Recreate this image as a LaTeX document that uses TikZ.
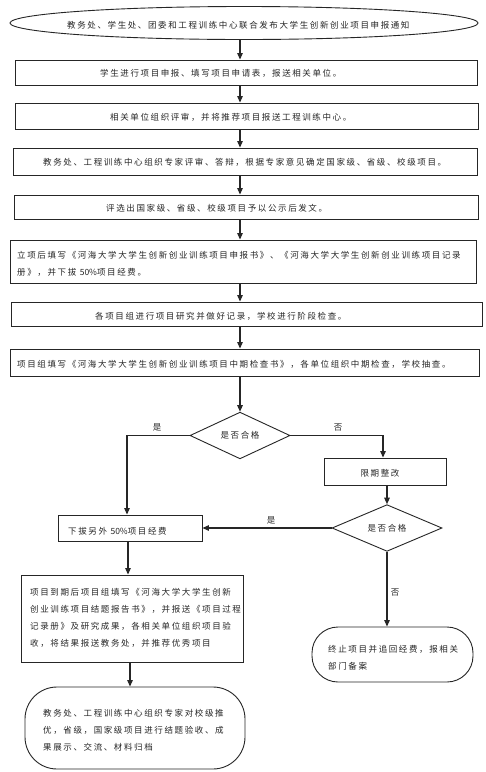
\documentclass[tikz,border=0pt]{standalone}
\usepackage{fontspec}
\newfontfamily\cjk[LetterSpace=19]{Noto Sans CJK SC}
\newfontfamily\cjklat{Noto Sans CJK SC}
\usetikzlibrary{shapes.geometric,arrows.meta,calc}
\begin{document}
\begin{tikzpicture}[x=1pt,y=-1pt,
  box/.style={draw=black!85, line width=0.9pt, rectangle, inner sep=0pt},
  rbox/.style={box, rounded corners=#1},
  oval/.style={draw=black!85, line width=0.9pt, ellipse, inner sep=0pt},
  dia/.style={draw=black!85, line width=0.9pt, diamond, inner sep=0pt,
    font=\cjk\fontsize{8.5}{17}\selectfont, text=black!85},
  txt/.style={font=\cjk\fontsize{8.5}{17}\selectfont, inner sep=0pt, anchor=west, align=left, text=black!85},
  lbl/.style={font=\cjk\fontsize{8.5}{17}\selectfont, inner sep=0pt, text=black!85},
  arr/.style={draw=black!85, line width=1.2pt, -{Triangle[length=6.5pt,width=5.5pt]}}
]
\fill[white] (0,0) rectangle (486,772);
\useasboundingbox (0,0) rectangle (486,772);

% shapes
\node[oval, minimum width=468pt, minimum height=33pt] (e1) at (244,23) {};
\node[box, minimum width=462pt, minimum height=25pt] (b2) at (246,72.5) {};
\node[box, minimum width=463pt, minimum height=26pt] (b3) at (246.5,116) {};
\node[box, minimum width=464pt, minimum height=27pt] (b4) at (245,161.5) {};
\node[box, minimum width=464pt, minimum height=24pt] (b5) at (246,207) {};
\node[box, minimum width=466pt, minimum height=43pt] (b6) at (243,261.5) {};
\node[box, minimum width=471pt, minimum height=24pt] (b7) at (246.5,314) {};
\node[box, minimum width=469pt, minimum height=27pt] (b8) at (244.5,362.5) {};
\node[dia, minimum width=100pt, minimum height=39pt] (d1) at (240,435.5) {是否合格};
\node[box, minimum width=122pt, minimum height=27pt] (b10) at (385,471.5) {};
\node[dia, minimum width=110pt, minimum height=40pt] (d2) at (387,528) {是否合格};
\node[box, minimum width=144pt, minimum height=26pt] (b9) at (130,528) {};
\node[box, minimum width=222pt, minimum height=87pt] (b11) at (132,618.5) {};
\node[rbox=32pt, minimum width=220pt, minimum height=82pt] (b12) at (135,728) {};
\node[rbox=26pt, minimum width=161pt, minimum height=55pt] (t13) at (392.5,654.5) {};

% texts
\node[txt] (te1) at (67,25) {教务处、学生处、团委和工程训练中心联合发布大学生创新创业项目申报通知};
\node[txt] (tb2) at (100,73) {学生进行项目申报、填写项目申请表，报送相关单位。};
\node[txt] (tb3) at (110,117) {相关单位组织评审，并将推荐项目报送工程训练中心。};
\node[txt] (tb4) at (43,162) {教务处、工程训练中心组织专家评审、答辩，根据专家意见确定国家级、省级、校级项目。};
\node[txt] (tb5) at (106,208) {评选出国家级、省级、校级项目予以公示后发文。};
\node[txt] (tb6) at (17,263.5) {立项后填写《河海大学大学生创新创业训练项目申报书》、《河海大学大学生创新创业训练项目记录\\册》，并下拔 {\cjklat 50\%}项目经费。};
\node[txt] (tb7) at (95,316) {各项目组进行项目研究并做好记录，学校进行阶段检查。};
\node[txt] (tb8) at (17,364) {项目组填写《河海大学大学生创新创业训练项目中期检查书》，各单位组织中期检查，学校抽查。};
\node[lbl] (tb10) at (380,473) {限期整改};
\node[txt] (tb9) at (68,531) {下拔另外 {\cjklat 50\%}项目经费};
\node[txt] (tb11) at (30,618) {项目到期后项目组填写《河海大学大学生创新\\创业训练项目结题报告书》，并报送《项目过程\\记录册》及研究成果，各相关单位组织项目验\\收，将结果报送教务处，并推荐优秀项目};
\node[txt] (tb12) at (43,730.5) {教务处、工程训练中心组织专家对校级推\\优，省级，国家级项目进行结题验收、成\\果展示、交流、材料归档};
\node[txt] (tt13) at (328,658) {终止项目并追回经费，报相关\\部门备案};

% labels
\node[lbl] (l1) at (157,427) {是};
\node[lbl] (l2) at (338,428) {否};
\node[lbl] (l3) at (271,520) {是};
\node[lbl] (l4) at (395,593) {否};

% connectors
\coordinate (col) at (240,0);
\coordinate (lc) at (127,0);
\coordinate (lc2) at (128,0);
\coordinate (lc3) at (130,0);
\coordinate (rc) at (383,0);
\draw[arr] (e1.south -| col) -- (b2.north -| col);
\draw[arr] (b2.south -| col) -- (b3.north -| col);
\draw[arr] (b3.south -| col) -- (b4.north -| col);
\draw[arr] (b4.south -| col) -- (b5.north -| col);
\draw[arr] (b5.south -| col) -- (b6.north -| col);
\draw[arr] (b6.south -| col) -- (b7.north -| col);
\draw[arr] (b7.south -| col) -- (b8.north -| col);
\draw[arr] (b8.south -| col) -- (d1.north);
\draw[arr] (d1.west) -| (b9.north -| lc);
\draw[arr] (d1.east) -| (b10.north -| rc);
\draw[arr] (b10.south -| d2.north) -- (d2.north);
\draw[arr] (d2.west) -- (b9.east);
\draw[arr] (b9.south -| lc2) -- (b11.north -| lc2);
\draw[arr] (b11.south -| lc3) -- (b12.north -| lc3);
\draw[arr] (d2.south) -- (d2.south |- t13.north);
\end{tikzpicture}
\end{document}
